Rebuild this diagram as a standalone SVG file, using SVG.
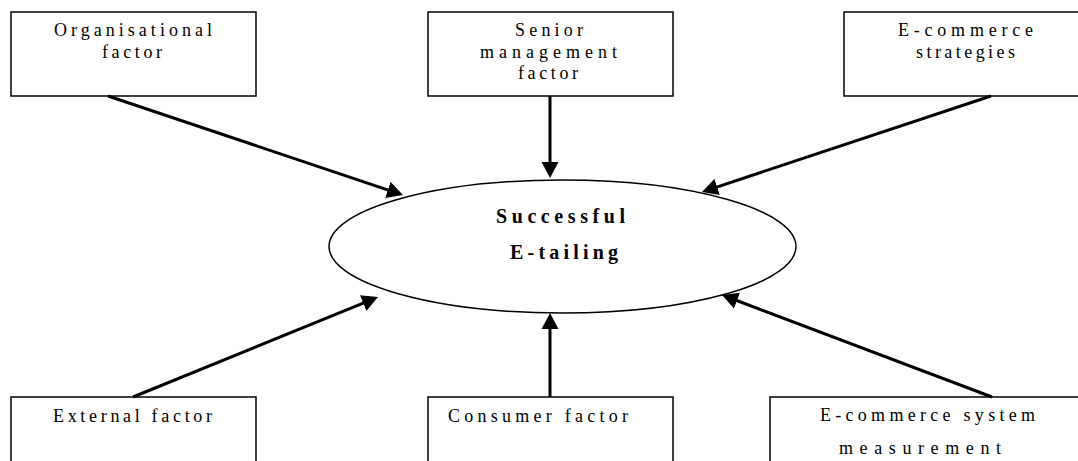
<svg xmlns="http://www.w3.org/2000/svg" width="1078" height="461" viewBox="0 0 1078 461">
<defs>
<style>
.box{fill:#fff;stroke:#000;stroke-width:1.5}
.t{font-family:"Liberation Serif","Times New Roman",serif;font-size:18px;fill:#000;text-anchor:middle}
.b{font-family:"Liberation Serif","Times New Roman",serif;font-size:20px;font-weight:bold;fill:#000;text-anchor:middle}
.c{stroke:#000;stroke-width:3;fill:none;marker-end:url(#ah)}
</style>
<marker id="ah" markerUnits="userSpaceOnUse" markerWidth="18" markerHeight="18" refX="6" refY="8.5" orient="auto" viewBox="0 0 18 17">
<path d="M0,0 L16,8.5 L0,17 z" fill="#000"/>
</marker>
</defs>
<rect width="1078" height="461" fill="#fff"/>
<g id="n1"><rect class="box" x="11" y="12" width="245" height="84"/>
<text class="t" x="133" y="36" textLength="158" lengthAdjust="spacing">Organisational</text>
<text class="t" x="132" y="58" textLength="60" lengthAdjust="spacing">factor</text></g>
<g id="n2"><rect class="box" x="428" y="12" width="245" height="84"/>
<text class="t" x="549" y="36" textLength="68" lengthAdjust="spacing">Senior</text>
<text class="t" x="548.5" y="58" textLength="137" lengthAdjust="spacing">management</text>
<text class="t" x="548" y="79" textLength="60" lengthAdjust="spacing">factor</text></g>
<g id="n3"><rect class="box" x="844" y="12" width="245" height="84"/>
<text class="t" x="965.5" y="36" textLength="135" lengthAdjust="spacing">E-commerce</text>
<text class="t" x="965.5" y="58" textLength="99" lengthAdjust="spacing">strategies</text></g>
<g id="center"><ellipse cx="562.5" cy="246.5" rx="233.5" ry="66.5" fill="#fff" stroke="#000" stroke-width="1.5"/>
<text class="b" x="560.5" y="223" textLength="129" lengthAdjust="spacing">Successful</text>
<text class="b" x="564" y="259" textLength="108" lengthAdjust="spacing">E-tailing</text></g>
<g id="n4"><rect class="box" x="11" y="397" width="245" height="84"/>
<text class="t" x="132.5" y="422" textLength="159" lengthAdjust="spacing">External factor</text></g>
<g id="n5"><rect class="box" x="428" y="397" width="245" height="84"/>
<text class="t" x="538" y="422" textLength="180" lengthAdjust="spacing">Consumer factor</text></g>
<g id="n6"><rect class="box" x="770" y="397" width="314" height="84"/>
<text class="t" x="927.5" y="421" textLength="215" lengthAdjust="spacing">E-commerce system</text>
<text class="t" x="920" y="454" textLength="162" lengthAdjust="spacing">measurement</text></g>
<g id="connectors">
<line class="c" x1="108" y1="96" x2="393.5" y2="191.8"/>
<line class="c" x1="550" y1="96" x2="550" y2="168"/>
<line class="c" x1="991" y1="96" x2="711.5" y2="188.8"/>
<line class="c" x1="133" y1="397" x2="368.7" y2="300.8"/>
<line class="c" x1="550" y1="397" x2="550" y2="323"/>
<line class="c" x1="992" y1="397" x2="731.4" y2="298.5"/>
</g>
</svg>
